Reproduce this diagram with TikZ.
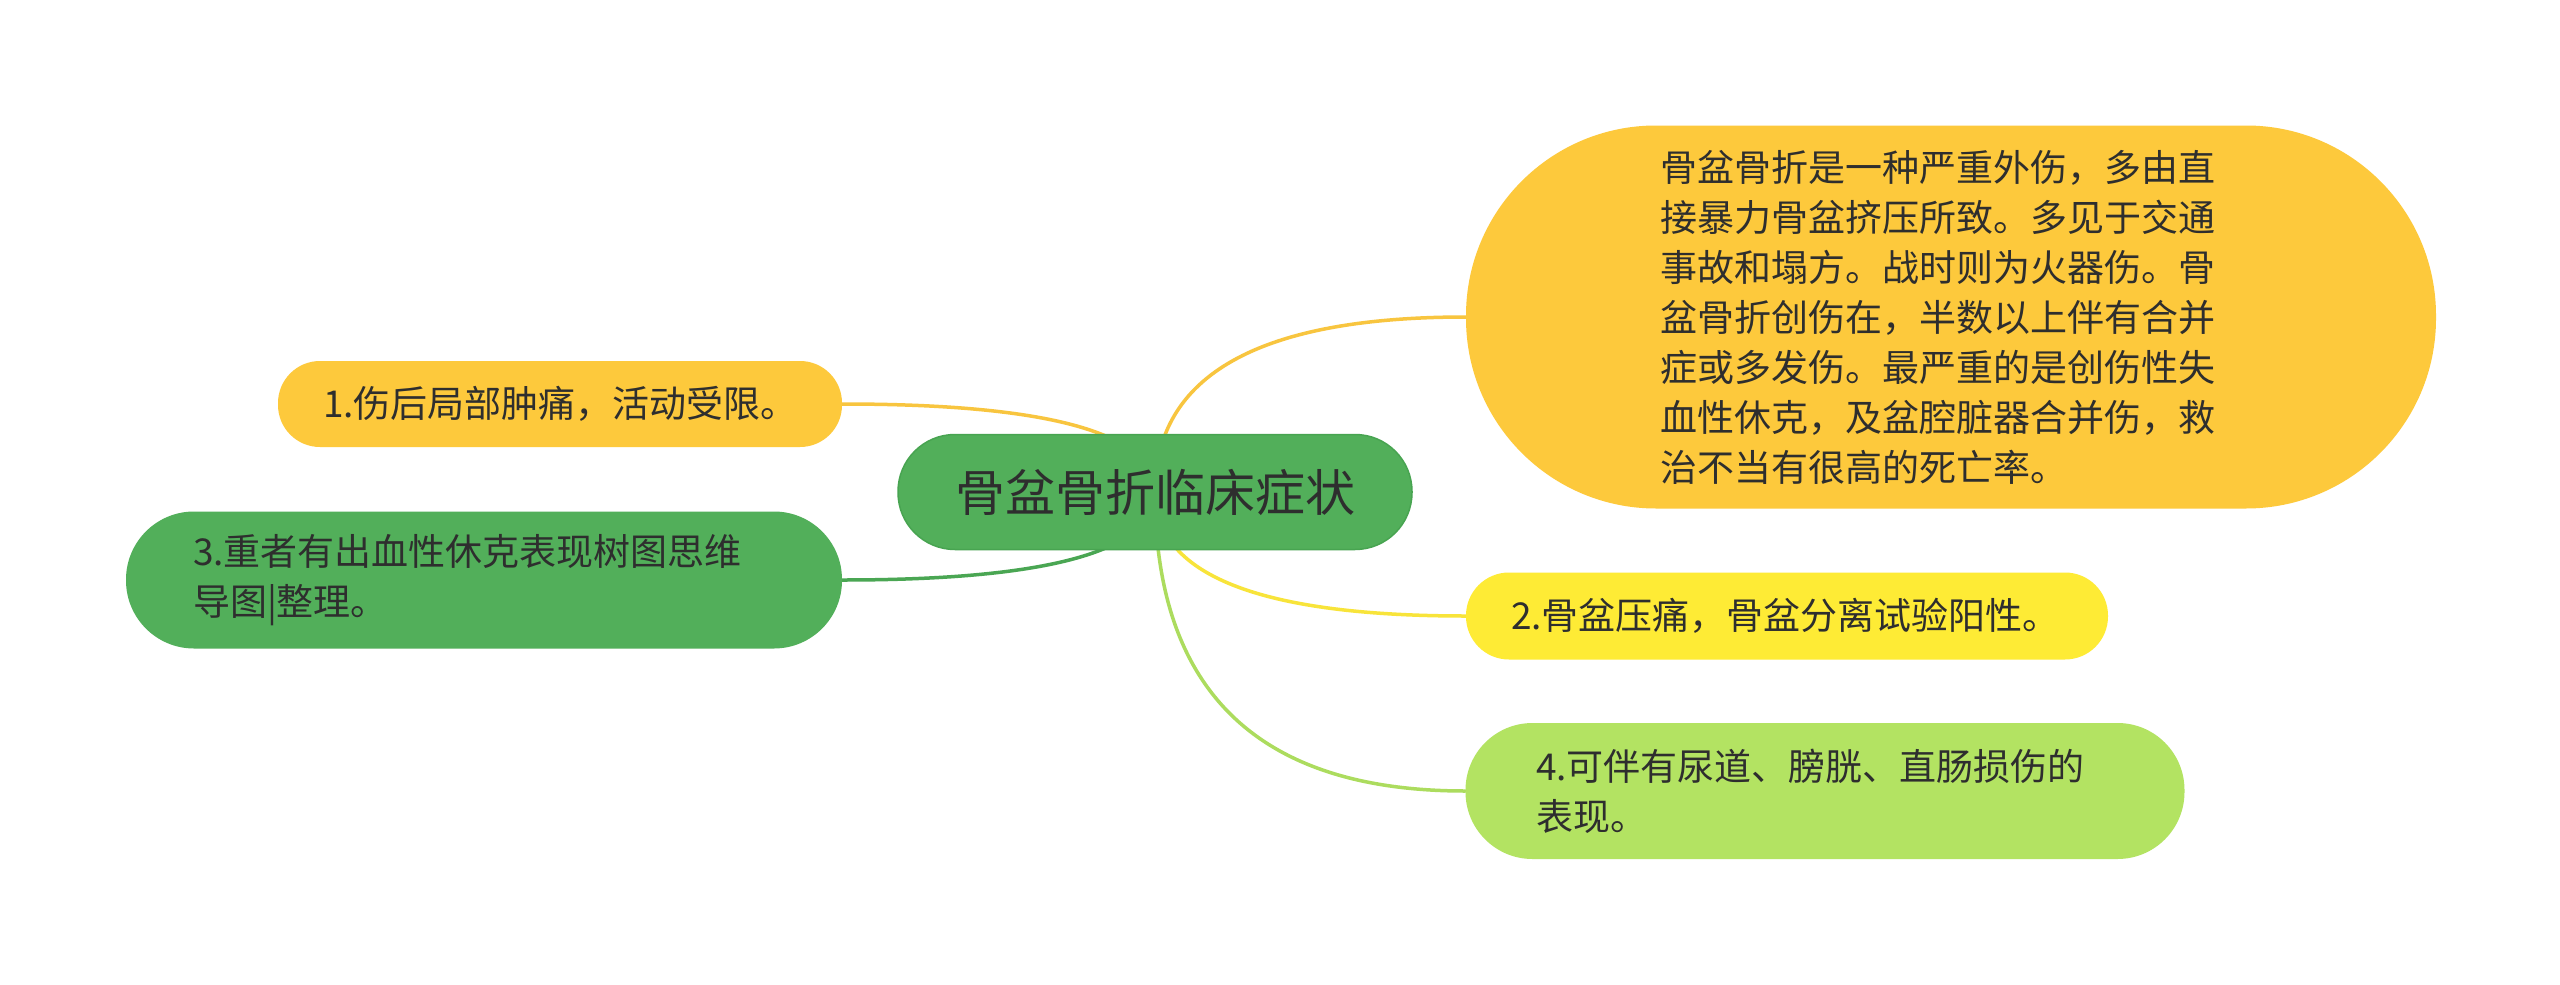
\documentclass[tikz,border=0pt]{standalone}
\usepackage{fontspec}
\setmainfont{Noto Sans CJK SC}
\usetikzlibrary{calc}
\definecolor{cgreen}{HTML}{52AF5A}
\definecolor{cgreenD}{HTML}{48A451}
\definecolor{cyel}{HTML}{FDC93C}
\definecolor{cyel2}{HTML}{FEEB35}
\definecolor{clgreen}{HTML}{B3E362}
\definecolor{ctext}{HTML}{2E2E2E}
\definecolor{lyel}{HTML}{F8C53F}
\definecolor{lyel2}{HTML}{F8E43A}
\definecolor{llgreen}{HTML}{ACDC5E}
\definecolor{lgreen}{HTML}{4AA653}
\pgfdeclarelayer{bg}
\pgfsetlayers{bg,main}
\newcommand\mmlink[3]{%
  \draw[link,#3] (#1.center) .. controls ($(#1.center)!2/3!(#1.center |- #2)$) and ($(#2)!2/3!(#1.center |- #2)$) .. (#2);}
\begin{document}
\begin{tikzpicture}[x=1pt,y=-1pt,
  box/.style={rectangle, inner sep=0pt, align=left, text=ctext, font=\fontsize{37}{50}\selectfont},
  link/.style={line width=3.5pt, line cap=round}]
\useasboundingbox (0,0) rectangle (2560,985);
\node[box, fill=cgreen, draw=cgreenD, line width=1.5pt, minimum width=514pt, minimum height=115pt, rounded corners=57pt, font=\fontsize{50}{60}\selectfont, align=center] (c) at (1155,492) {骨盆骨折临床症状};
\node[box, fill=cyel, minimum width=970pt, minimum height=383pt, rounded corners=190pt, text width=582pt] (b) at (1951,317) {骨盆骨折是一种严重外伤，多由直\\接暴力骨盆挤压所致。多见于交通\\事故和塌方。战时则为火器伤。骨\\盆骨折创伤在，半数以上伴有合并\\症或多发伤。最严重的是创伤性失\\血性休克，及盆腔脏器合并伤，救\\治不当有很高的死亡率。};
\node[box, fill=cyel, minimum width=564pt, minimum height=86pt, rounded corners=42pt, text width=474pt] (n1) at (560,404) {1.伤后局部肿痛，活动受限。};
\node[box, fill=cgreen, minimum width=716pt, minimum height=137pt, rounded corners=68pt, text width=582pt] (n3) at (484,580) {3.重者有出血性休克表现树图思维\\导图|整理。};
\node[box, fill=cyel2, minimum width=642pt, minimum height=87pt, rounded corners=43pt, text width=552pt] (n2) at (1787,616) {2.骨盆压痛，骨盆分离试验阳性。};
\node[box, fill=clgreen, minimum width=719pt, minimum height=136pt, rounded corners=67pt, text width=578pt] (n4) at (1825,791) {4.可伴有尿道、膀胱、直肠损伤的\\表现。};
\begin{pgfonlayer}{bg}
\fill[white] (0,0) rectangle (2560,985);
\mmlink{c}{b.west}{lyel}
\mmlink{c}{n1.east}{lyel}
\mmlink{c}{n2.west}{lyel2}
\mmlink{c}{n4.west}{llgreen}
\mmlink{c}{n3.east}{lgreen}
\end{pgfonlayer}
\end{tikzpicture}
\end{document}
